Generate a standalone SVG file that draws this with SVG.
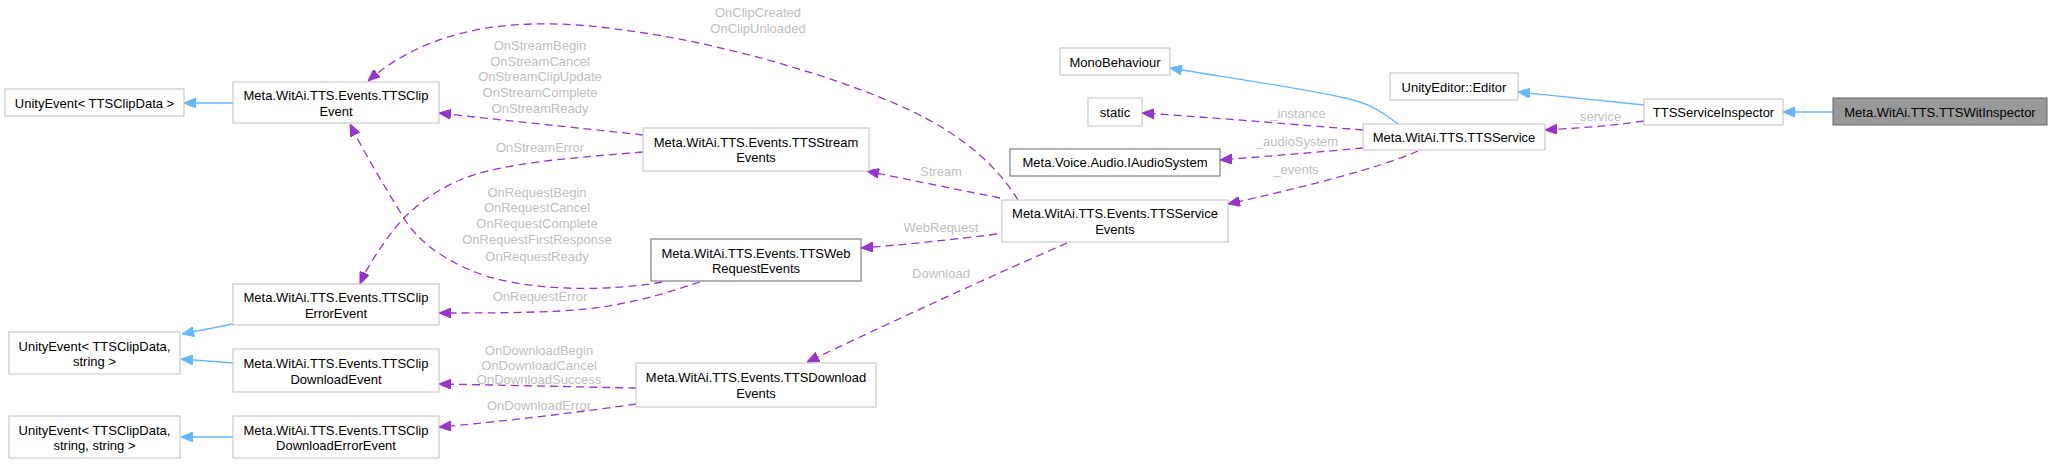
<svg xmlns="http://www.w3.org/2000/svg" width="2052" height="464" viewBox="0 0 2052 464">
<defs>
<style>
.n rect{fill:#ffffff;stroke:#bfbfbf;stroke-width:1}
.n.doc rect{stroke:#666666}
.n.cur rect{fill:#999999;stroke:#666666}
text{font-family:"Liberation Sans",Arial,sans-serif;font-size:13px;text-anchor:middle;fill:#000000}
text.l{fill:#bebebe}
.eb{fill:none;stroke:#63b8ff;stroke-width:1.3;marker-end:url(#ab)}
.ep{fill:none;stroke:#9a32cd;stroke-width:1.3;stroke-dasharray:8,5;marker-end:url(#ap)}
</style>
<marker id="ap" viewBox="0 0 12 10" markerWidth="12" markerHeight="10" refX="12" refY="5" orient="auto" markerUnits="userSpaceOnUse"><path d="M0,0 L12,5 L0,10 z" fill="#9a32cd" stroke="#9a32cd" stroke-width="1"/></marker>
<marker id="ab" viewBox="0 0 12 10" markerWidth="12" markerHeight="10" refX="12" refY="5" orient="auto" markerUnits="userSpaceOnUse"><path d="M0,0 L12,5 L0,10 z" fill="#63b8ff" stroke="#63b8ff" stroke-width="1"/></marker>
</defs>
<rect x="0" y="0" width="2052" height="464" fill="#ffffff"/>
<g id="edges">
<path class="eb" d="M233,103 L184,103"/>
<path class="eb" d="M233,324 L182,334"/>
<path class="eb" d="M233,363 L181,359"/>
<path class="eb" d="M233,437 L181,437"/>
<path class="eb" d="M1398,124 C1382,112 1372,104 1345,98 C1300,88 1230,78 1170,68"/>
<path class="eb" d="M1644,105 L1518,92"/>
<path class="eb" d="M1833,112 L1783,112"/>
<path class="ep" d="M1644,121 C1610,126 1580,128 1545,130"/>
<path class="ep" d="M1363,130 C1300,125 1220,118 1142,113"/>
<path class="ep" d="M1363,148 C1320,152 1270,156 1220,160"/>
<path class="ep" d="M1418,151 C1380,168 1300,188 1228,204"/>
<path class="ep" d="M1000,198 C960,190 910,180 867,171"/>
<path class="ep" d="M997,234 C950,240 900,245 861,248"/>
<path class="ep" d="M1067,243 C1000,272 900,318 807,362"/>
<path class="ep" d="M1018,200 C1000,170 965,135 905,108 C840,78 720,42 623,30 C540,18 440,18 368,81"/>
<path class="ep" d="M643,135 C580,128 500,120 439,113"/>
<path class="ep" d="M643,152 C570,158 500,163 460,180 C430,193 410,210 395,228 C380,248 368,265 360,284"/>
<path class="ep" d="M662,282 C600,293 520,290 475,272 C440,258 418,240 405,220 C390,195 365,155 350,124"/>
<path class="ep" d="M700,282 C660,295 620,308 560,311 C520,313 480,313 439,313"/>
<path class="ep" d="M636,388 C580,387 500,385 439,384"/>
<path class="ep" d="M636,404 C580,412 500,422 439,427"/>
<text class="l" x="1597" y="121">_service</text>
<text class="l" x="1298" y="118">_instance</text>
<text class="l" x="1297" y="146">_audioSystem</text>
<text class="l" x="1296" y="174">_events</text>
<text class="l" x="941" y="176">Stream</text>
<text class="l" x="941" y="232">WebRequest</text>
<text class="l" x="941" y="278">Download</text>
<text class="l" x="758" y="17">OnClipCreated</text>
<text class="l" x="758" y="33">OnClipUnloaded</text>
<text class="l" x="540" y="50">OnStreamBegin</text>
<text class="l" x="540" y="66">OnStreamCancel</text>
<text class="l" x="540" y="81">OnStreamClipUpdate</text>
<text class="l" x="540" y="97">OnStreamComplete</text>
<text class="l" x="540" y="113">OnStreamReady</text>
<text class="l" x="540" y="152">OnStreamError</text>
<text class="l" x="537" y="197">OnRequestBegin</text>
<text class="l" x="537" y="212">OnRequestCancel</text>
<text class="l" x="537" y="228">OnRequestComplete</text>
<text class="l" x="537" y="244">OnRequestFirstResponse</text>
<text class="l" x="537" y="261">OnRequestReady</text>
<text class="l" x="540" y="301">OnRequestError</text>
<text class="l" x="539" y="355">OnDownloadBegin</text>
<text class="l" x="539" y="370">OnDownloadCancel</text>
<text class="l" x="539" y="384">OnDownloadSuccess</text>
<text class="l" x="539" y="410">OnDownloadError</text>
</g>
<g id="n_ue1" class="n"><rect x="5" y="89" width="179" height="27"/><text x="94.5" y="107.5">UnityEvent&lt; TTSClipData &gt;</text></g>
<g id="n_clip" class="n"><rect x="233" y="82" width="206" height="41"/><text x="336" y="99.5">Meta.WitAi.TTS.Events.TTSClip</text><text x="336" y="115.5">Event</text></g>
<g id="n_cliperr" class="n"><rect x="233" y="284" width="206" height="41"/><text x="336" y="301.5">Meta.WitAi.TTS.Events.TTSClip</text><text x="336" y="317.5">ErrorEvent</text></g>
<g id="n_ue2" class="n"><rect x="9" y="332" width="171" height="42"/><text x="94.5" y="350.5">UnityEvent&lt; TTSClipData,</text><text x="94.5" y="365.5">string &gt;</text></g>
<g id="n_clipdl" class="n"><rect x="233" y="349" width="206" height="43"/><text x="336" y="367.5">Meta.WitAi.TTS.Events.TTSClip</text><text x="336" y="383.5">DownloadEvent</text></g>
<g id="n_ue3" class="n"><rect x="9" y="416" width="171" height="42"/><text x="94.5" y="434.5">UnityEvent&lt; TTSClipData,</text><text x="94.5" y="449.5">string, string &gt;</text></g>
<g id="n_clipdlerr" class="n"><rect x="233" y="416" width="206" height="42"/><text x="336" y="434.5">Meta.WitAi.TTS.Events.TTSClip</text><text x="336" y="449.5">DownloadErrorEvent</text></g>
<g id="n_stream" class="n"><rect x="643" y="128" width="226" height="43"/><text x="756" y="146.5">Meta.WitAi.TTS.Events.TTSStream</text><text x="756" y="161.5">Events</text></g>
<g id="n_web" class="n doc"><rect x="651" y="239" width="210" height="42"/><text x="756" y="257.5">Meta.WitAi.TTS.Events.TTSWeb</text><text x="756" y="272.5">RequestEvents</text></g>
<g id="n_dl" class="n"><rect x="636" y="363" width="240" height="44"/><text x="756" y="381.5">Meta.WitAi.TTS.Events.TTSDownload</text><text x="756" y="397.5">Events</text></g>
<g id="n_svcev" class="n"><rect x="1002" y="200" width="226" height="42"/><text x="1115" y="217.5">Meta.WitAi.TTS.Events.TTSService</text><text x="1115" y="233.5">Events</text></g>
<g id="n_mono" class="n"><rect x="1060" y="48" width="110" height="27"/><text x="1115" y="66.5">MonoBehaviour</text></g>
<g id="n_static" class="n"><rect x="1088" y="98" width="54" height="28"/><text x="1115" y="116.5">static</text></g>
<g id="n_audio" class="n doc"><rect x="1010" y="149" width="210" height="27"/><text x="1115" y="166.5">Meta.Voice.Audio.IAudioSystem</text></g>
<g id="n_svc" class="n"><rect x="1363" y="124" width="182" height="26"/><text x="1454" y="141.5">Meta.WitAi.TTS.TTSService</text></g>
<g id="n_editor" class="n"><rect x="1390" y="73" width="128" height="27"/><text x="1454" y="91.5">UnityEditor::Editor</text></g>
<g id="n_insp" class="n"><rect x="1644" y="99" width="139" height="26"/><text x="1713.5" y="116.5">TTSServiceInspector</text></g>
<g id="n_wit" class="n cur"><rect x="1833" y="98" width="214" height="27"/><text x="1940" y="116.5">Meta.WitAi.TTS.TTSWitInspector</text></g>
</svg>
